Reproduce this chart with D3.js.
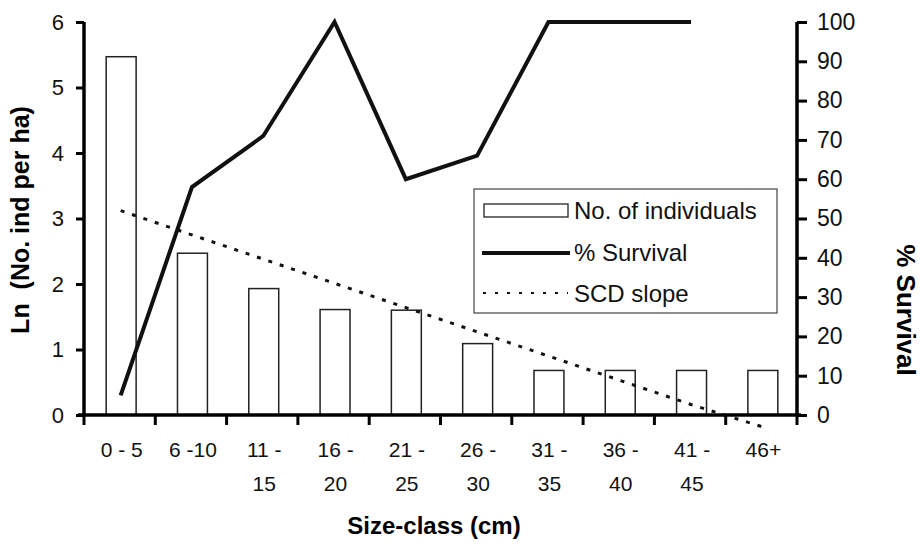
<!DOCTYPE html>
<html>
<head>
<script src="https://d3js.org/d3.v7.min.js"></script>
<style>
  body { margin: 0; background: #fff; }
  svg { font-family: "Liberation Sans", Arial, sans-serif; }
</style>
</head>
<body>
<script>
// size classes and their two-line labels
const categories = ["0-5", "6-10", "11-15", "16-20", "21-25", "26-30", "31-35", "36-40", "41-45", "46+"];
const tickLines = [["0 - 5"], ["6 -10"], ["11 -", "15"], ["16 -", "20"], ["21 -", "25"],
                   ["26 -", "30"], ["31 -", "35"], ["36 -", "40"], ["41 -", "45"], ["46+"]];
// Ln (No. ind per ha)
const lnIndividuals = [5.47, 2.47, 1.93, 1.61, 1.60, 1.09, 0.68, 0.68, 0.68, 0.68];
// % survival (no value for last class)
const survival = [5, 58, 71, 100, 60, 66, 100, 100, 100];
// SCD slope (fitted line)
const scdSlope = [3.12, 2.75, 2.38, 2.01, 1.64, 1.27, 0.90, 0.53, 0.16, -0.18];
const leftTicks = [0, 1, 2, 3, 4, 5, 6];
const rightTicks = [0, 10, 20, 30, 40, 50, 60, 70, 80, 90, 100];

const width = 922, height = 548;
const margin = {top: 22, left: 84, bottom: 133, right: 125};

const svg = d3.select("body").append("svg")
  .attr("width", width).attr("height", height);

const x = d3.scaleBand()
  .domain(categories)
  .range([margin.left, width - margin.right])
  .padding(0);

const yL = d3.scaleLinear().domain([0, 6]).range([height - margin.bottom, margin.top]);
const yR = d3.scaleLinear().domain([0, 100]).range([height - margin.bottom, margin.top]);

const barW = x.bandwidth() * 0.42;
const cx = d => x(d) + x.bandwidth() / 2;

// bars
svg.append("g")
  .selectAll("rect").data(lnIndividuals).enter().append("rect")
  .attr("x", (d, i) => cx(categories[i]) - barW / 2 + 1.5)
  .attr("y", d => yL(d))
  .attr("width", barW)
  .attr("height", d => yL(0) - yL(d))
  .attr("fill", "#fff")
  .attr("stroke", "#222")
  .attr("stroke-width", 1.5);

// SCD slope
svg.append("path")
  .datum(scdSlope)
  .attr("fill", "none")
  .attr("stroke", "#111")
  .attr("stroke-width", 3)
  .attr("stroke-dasharray", "4,8")
  .attr("d", d3.line().x((d, i) => cx(categories[i]) + 1).y(d => yL(d)));

// survival line
svg.append("path")
  .datum(survival)
  .attr("fill", "none")
  .attr("stroke", "#111")
  .attr("stroke-width", 4)
  .attr("stroke-linejoin", "miter")
  .attr("d", d3.line().x((d, i) => cx(categories[i]) + 1).y(d => yR(d)));

// left axis
const gL = svg.append("g")
  .attr("transform", `translate(${margin.left},0)`)
  .call(d3.axisLeft(yL).tickValues(leftTicks).tickSize(8).tickPadding(12).tickFormat(d3.format("d")));
gL.select(".domain").attr("stroke-width", 3.5).attr("d", `M0,${yL(6)}V${yL(0)}`);
gL.selectAll(".tick line").attr("stroke-width", 3);
gL.selectAll(".tick text").attr("font-size", 22).attr("fill", "#111").attr("font-family", "Liberation Sans, Arial");

// right axis
const gR = svg.append("g")
  .attr("transform", `translate(${width - margin.right},0)`)
  .call(d3.axisRight(yR).tickValues(rightTicks).tickSize(10).tickPadding(10));
gR.select(".domain").attr("stroke-width", 3.5).attr("d", `M0,${yR(100)}V${yR(0)}`);
gR.selectAll(".tick line").attr("stroke-width", 3);
gR.selectAll(".tick text").attr("font-size", 23).attr("fill", "#111").attr("font-family", "Liberation Sans, Arial");

// x axis line with ticks at class boundaries
const y0 = yL(0);
const gX = svg.append("g");
gX.append("line")
  .attr("x1", margin.left - 6).attr("x2", width - margin.right + 4)
  .attr("y1", y0).attr("y2", y0)
  .attr("stroke", "#000").attr("stroke-width", 3.5);
const bounds = categories.map(c => x(c)).concat([x.range()[1]]);
gX.selectAll("line.tk").data(bounds).enter().append("line")
  .attr("class", "tk")
  .attr("x1", d => d).attr("x2", d => d)
  .attr("y1", y0).attr("y2", y0 + 10)
  .attr("stroke", "#000").attr("stroke-width", 3);

// x tick labels
const lbl = svg.append("g").selectAll("text").data(tickLines).enter().append("text")
  .attr("text-anchor", "middle")
  .attr("font-size", 21)
  .attr("fill", "#111");
lbl.selectAll("tspan").data((d, i) => d.map(t => ({t, i}))).enter().append("tspan")
  .attr("x", d => cx(categories[d.i]) + 2)
  .attr("y", (d, j) => 457 + j * 34)
  .text(d => d.t);

// axis titles
svg.append("text")
  .attr("x", 434).attr("y", 534)
  .attr("text-anchor", "middle")
  .attr("font-size", 24).attr("font-weight", "bold")
  .text("Size-class (cm)");

svg.append("text")
  .attr("transform", "translate(29,220) rotate(-90)")
  .attr("text-anchor", "middle")
  .attr("font-size", 25).attr("font-weight", "bold")
  .style("white-space", "pre")
  .text("Ln  (No. ind per ha)");

svg.append("text")
  .attr("transform", "translate(897,310) rotate(90)")
  .attr("text-anchor", "middle")
  .attr("font-size", 26).attr("font-weight", "bold")
  .text("% Survival");

// legend
const lg = svg.append("g");
lg.append("rect")
  .attr("x", 474).attr("y", 189).attr("width", 303).attr("height", 124)
  .attr("fill", "#fff").attr("stroke", "#444").attr("stroke-width", 1.2);
lg.append("rect")
  .attr("x", 484).attr("y", 204).attr("width", 84).attr("height", 13)
  .attr("fill", "#fff").attr("stroke", "#222").attr("stroke-width", 1.3);
lg.append("line")
  .attr("x1", 482).attr("x2", 570).attr("y1", 253).attr("y2", 253)
  .attr("stroke", "#111").attr("stroke-width", 4);
lg.append("line")
  .attr("x1", 483).attr("x2", 568).attr("y1", 293).attr("y2", 293)
  .attr("stroke", "#111").attr("stroke-width", 2.2).attr("stroke-dasharray", "3,9");
const legendNames = ["No. of individuals", "% Survival", "SCD slope"];
lg.selectAll("text.ln").data(legendNames).enter().append("text")
  .attr("class", "ln")
  .attr("x", 574).attr("y", (d, i) => 219 + i * 41.5)
  .attr("font-size", 24).attr("fill", "#111")
  .text(d => d);
</script>
</body>
</html>
